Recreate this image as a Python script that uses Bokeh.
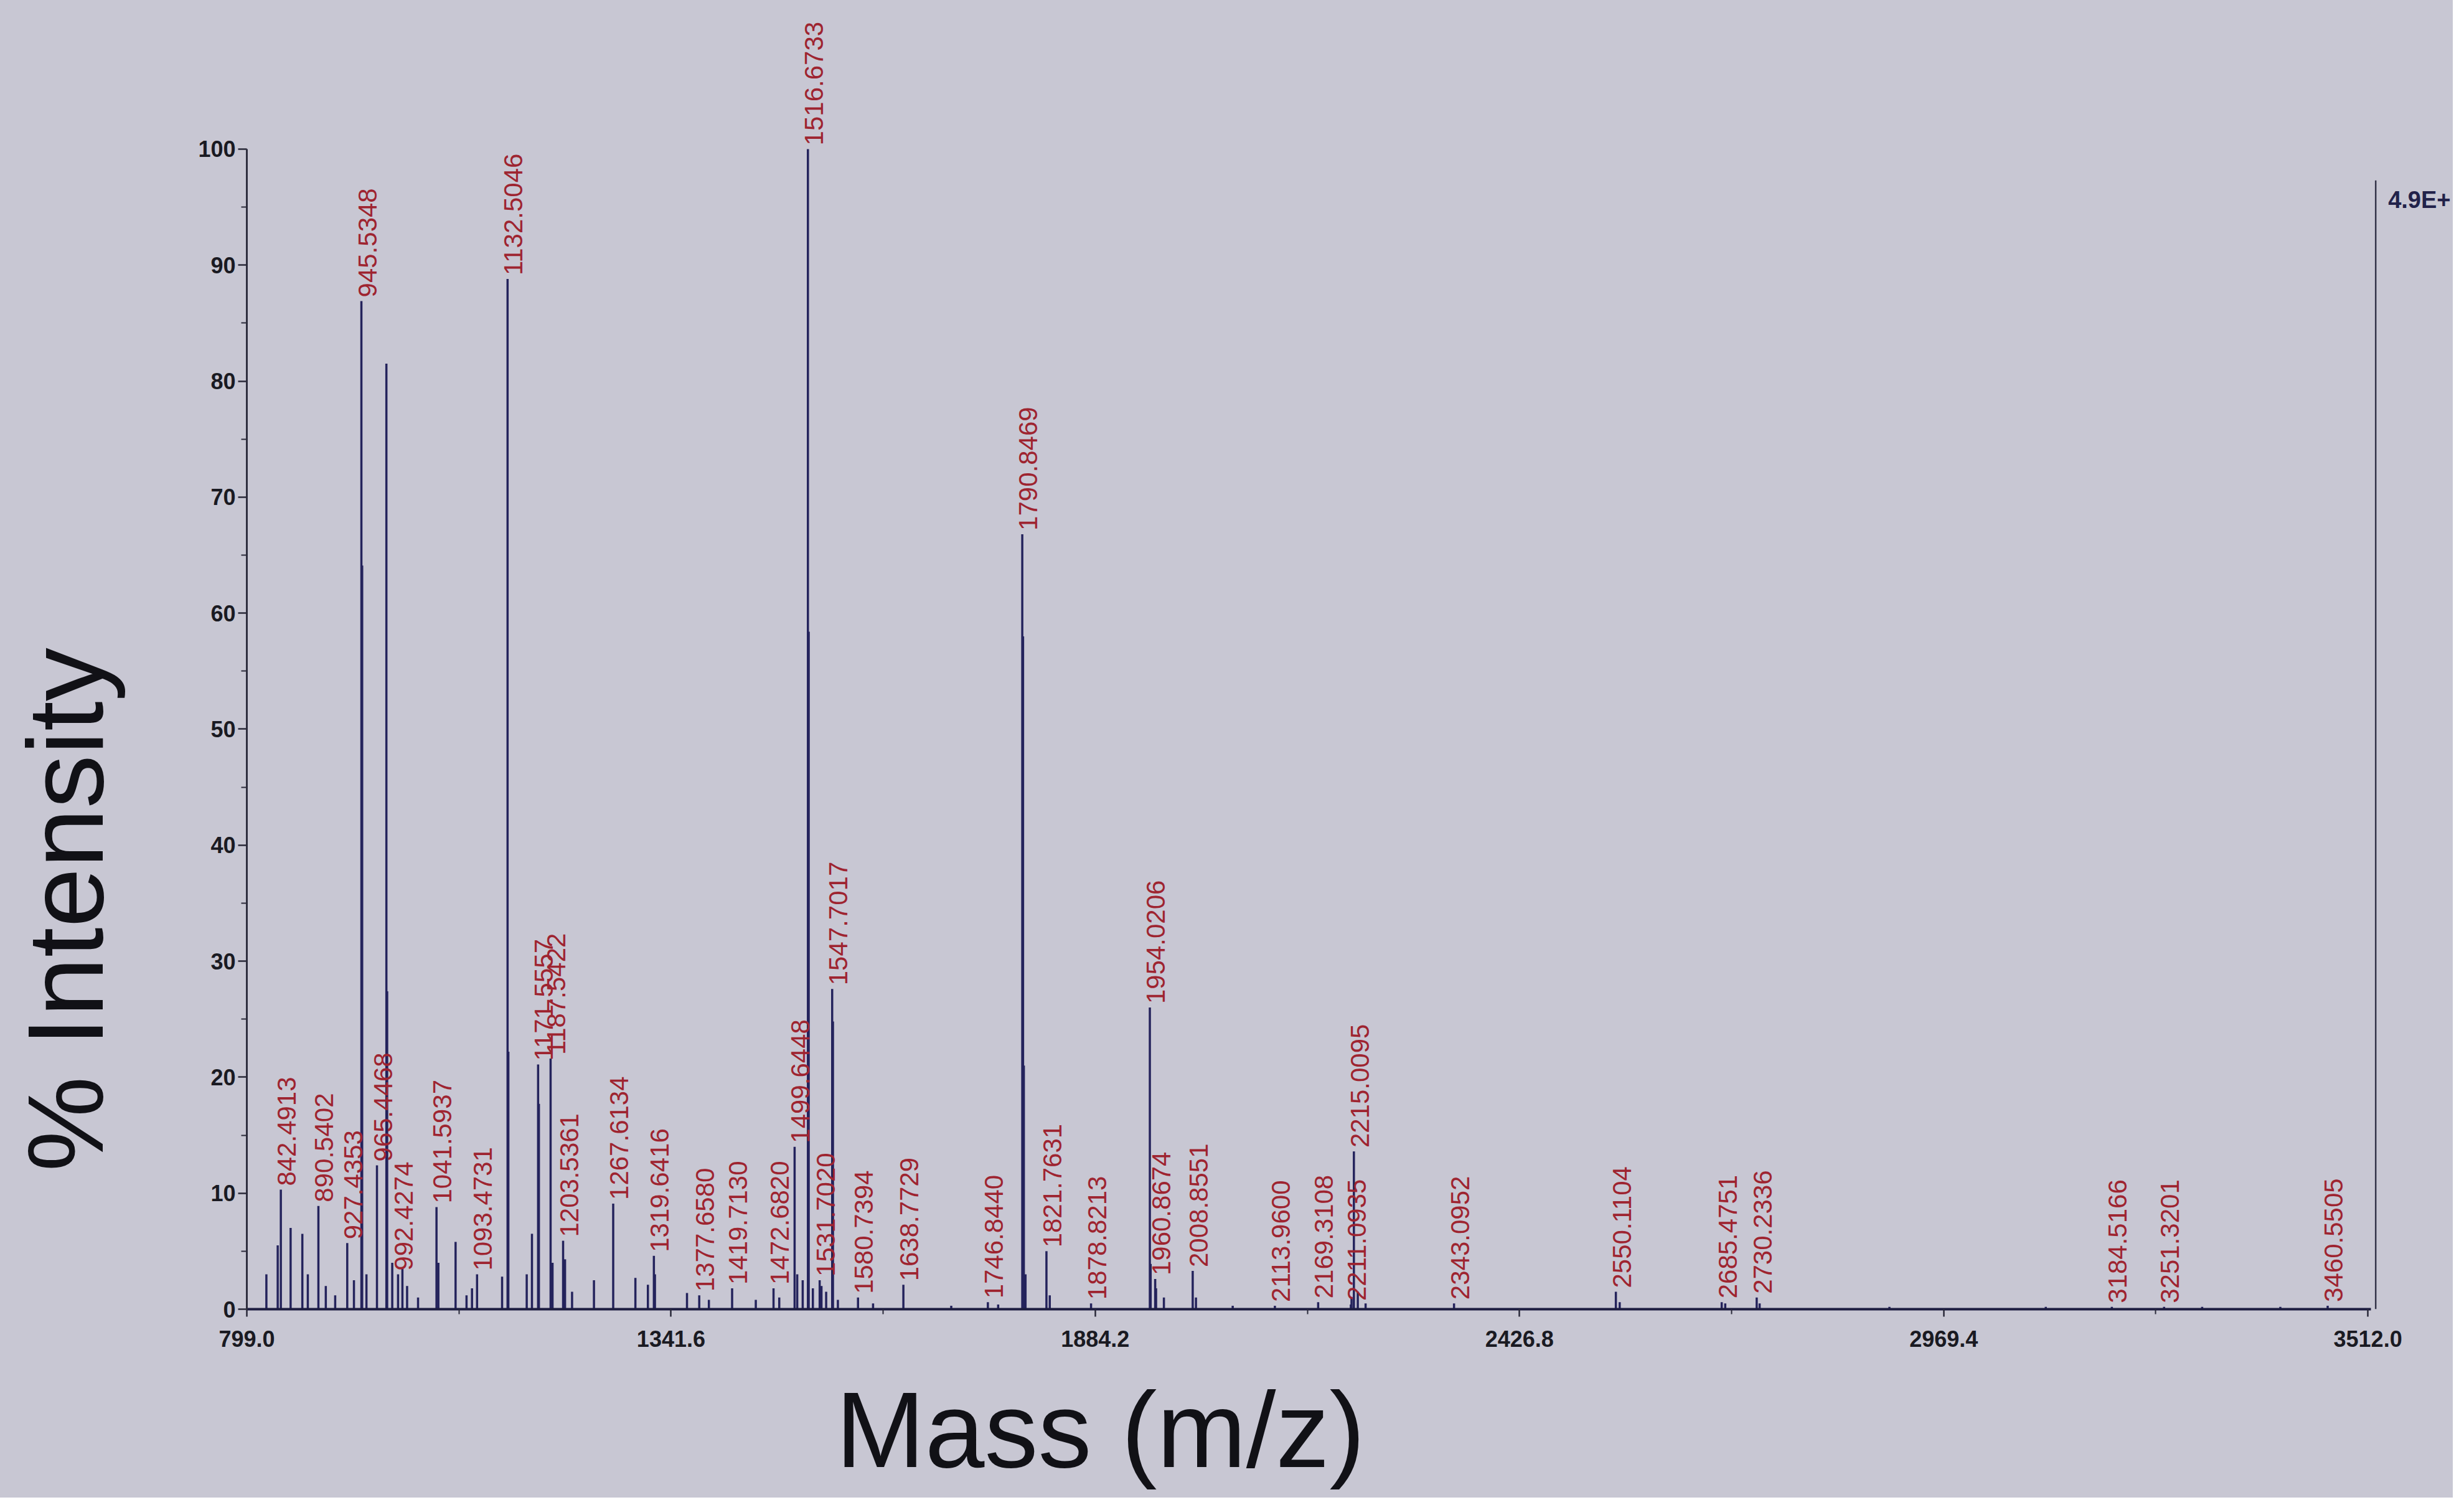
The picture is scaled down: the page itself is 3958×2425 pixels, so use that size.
import math
from bokeh.plotting import figure
from bokeh.layouts import column, row
from bokeh.models import Range1d, FixedTicker, NumeralTickFormatter, ColumnDataSource
from bokeh.core.properties import value
from bokeh.embed import file_html
from bokeh.resources import INLINE

# ---- data ----
label_mz = [842.4913, 890.5402, 927.4353, 945.5348, 965.4468, 992.4274, 1041.5937,
            1093.4731, 1132.5046, 1171.5557, 1187.5422, 1203.5361, 1267.6134, 1319.6416,
            1377.6580, 1419.7130, 1472.6820, 1499.6448, 1516.6733, 1531.7020, 1547.7017,
            1580.7394, 1638.7729, 1746.8440, 1790.8469, 1821.7631, 1878.8213, 1954.0206,
            1960.8674, 2008.8551, 2113.9600, 2169.3108, 2211.0935, 2215.0095, 2343.0952,
            2550.1104, 2685.4751, 2730.2336, 3184.5166, 3251.3201, 3460.5505]
label_int = [10.3, 8.9, 5.7, 86.9, 12.4, 3.0, 8.8,
             3.0, 88.8, 21.1, 21.6, 5.9, 9.1, 4.6,
             1.2, 1.8, 1.8, 14.0, 100.0, 2.5, 27.6,
             1.0, 2.1, 0.6, 66.8, 5.0, 0.5, 26.0,
             2.6, 3.3, 0.3, 0.6, 0.4, 13.6, 0.5,
             1.5, 0.6, 1.0, 0.2, 0.2, 0.3]
label_text = ["842.4913", "890.5402", "927.4353", "945.5348", "965.4468", "992.4274", "1041.5937",
              "1093.4731", "1132.5046", "1171.5557", "1187.5422", "1203.5361", "1267.6134", "1319.6416",
              "1377.6580", "1419.7130", "1472.6820", "1499.6448", "1516.6733", "1531.7020", "1547.7017",
              "1580.7394", "1638.7729", "1746.8440", "1790.8469", "1821.7631", "1878.8213", "1954.0206",
              "1960.8674", "2008.8551", "2113.9600", "2169.3108", "2211.0935", "2215.0095", "2343.0952",
              "2550.1104", "2685.4751", "2730.2336", "3184.5166", "3251.3201", "3460.5505"]

# unlabeled peaks (isotopes and minor peaks)
other_mz = [946.53, 977.5, 978.5, 1133.5, 1172.56, 1517.67, 1548.70, 1791.85, 1792.85, 1955.02,
            824.0, 838.5, 855.0, 870.0, 877.0, 900.0, 912.0, 936.0, 952.0, 985.0, 998.0, 1004.0,
            1018.0, 1044.0, 1066.0, 1080.0, 1087.0, 1125.5, 1157.0, 1163.7, 1190.0, 1206.0, 1215.0,
            1243.0, 1296.0, 1312.0, 1321.0, 1362.0, 1390.0, 1450.0, 1480.0, 1503.0, 1510.0, 1523.0,
            1534.0, 1540.0, 1555.0, 1600.0, 1700.0, 1760.0, 1795.0, 1826.0, 1962.0, 1972.0, 2013.0,
            2060.0, 2212.0, 2220.0, 2230.0, 2555.0, 2690.0, 2734.0, 2900.0, 3100.0, 3300.0, 3400.0]
other_int = [64.1, 81.5, 27.4, 22.2, 17.7, 58.4, 24.8, 58.0, 21.0, 3.9,
             3.0, 5.5, 7.0, 6.5, 3.0, 2.0, 1.2, 2.5, 3.0, 4.0, 3.5, 2.0,
             1.0, 4.0, 5.8, 1.2, 1.8, 2.8, 3.0, 6.5, 4.0, 4.3, 1.5,
             2.5, 2.7, 2.1, 3.0, 1.4, 0.8, 0.8, 1.0, 3.0, 2.5, 1.8,
             2.0, 1.5, 0.8, 0.5, 0.3, 0.4, 3.0, 1.2, 1.8, 1.0, 1.0,
             0.3, 1.0, 1.5, 0.5, 0.6, 0.5, 0.5, 0.2, 0.2, 0.2, 0.2]

x_ticks = [799.0, 1341.6, 1884.2, 2426.8, 2969.4, 3512.0]
x_minor = [1070.3, 1612.9, 2155.5, 2698.1, 3240.7]
y_ticks = [0, 10, 20, 30, 40, 50, 60, 70, 80, 90, 100]
full_scale_mz = 3522
full_scale_top = 97.3
full_scale_text = "4.9E+"
x_title = "Mass (m/z)"
y_title = "% Intensity"

BG = "#c8c7d3"
NAVY = "#24235c"
RED = "#9e2430"

W_TOTAL, H_TOTAL = 3940, 2405
W_LEFT = 250
H_MAIN = 2192


def blank(width, height):
    f = figure(width=width, height=height, output_backend="svg", toolbar_location=None,
               x_range=Range1d(0, width), y_range=Range1d(0, height),
               x_axis_type=None, y_axis_type=None,
               min_border=0, min_border_left=0, min_border_right=0,
               min_border_top=0, min_border_bottom=0,
               background_fill_color=BG, border_fill_color=BG)
    f.outline_line_color = None
    f.grid.visible = False
    return f


# ---- main spectrum ----
p = figure(width=W_TOTAL - W_LEFT, height=H_MAIN, output_backend="svg", toolbar_location=None,
           x_range=Range1d(799, 3621), y_range=Range1d(0, 112.5),
           min_border_left=146, min_border_right=0, min_border_top=6, min_border_bottom=90,
           background_fill_color=BG, border_fill_color=BG)
p.outline_line_color = None
p.grid.visible = False

all_mz = label_mz + other_mz
all_int = label_int + other_int
p.segment(x0=all_mz, y0=[0] * len(all_mz), x1=all_mz, y1=all_int,
          line_color=NAVY, line_width=3.5)

src = ColumnDataSource(dict(x=label_mz, y=label_int, t=label_text))
p.text(x="x", y="y", text="t", source=src, angle=math.pi / 2,
       text_align="left", text_baseline="top", x_offset=-5, y_offset=-6,
       text_color=RED, text_font=value("Liberation Sans"), text_font_size="42px")

p.segment(x0=[full_scale_mz], y0=[0], x1=[full_scale_mz], y1=[full_scale_top],
          line_color="#35354a", line_width=2.5)
p.text(x=[full_scale_mz], y=[95.6], text=[full_scale_text], x_offset=20,
       text_baseline="middle", text_align="left", text_color="#22224a",
       text_font=value("Liberation Sans"), text_font_size="38px", text_font_style="bold")

xa = p.xaxis[0]
xa.ticker = FixedTicker(ticks=x_ticks, minor_ticks=x_minor)
xa.formatter = NumeralTickFormatter(format="0.0")
xa.bounds = (799, 3516)
xa.axis_line_color = "#1d1d40"
xa.axis_line_width = 4
xa.major_tick_out = 12
xa.major_tick_in = 0
xa.minor_tick_out = 8
xa.minor_tick_in = 0
xa.major_tick_line_width = 2.5
xa.minor_tick_line_width = 2
xa.major_tick_line_color = "#2a2a3a"
xa.minor_tick_line_color = "#2a2a3a"
xa.major_label_standoff = 22
xa.major_label_text_font = "Liberation Sans"
xa.major_label_text_font_style = "bold"
xa.major_label_text_font_size = "36px"
xa.major_label_text_color = "#1a1a22"

ya = p.yaxis[0]
ya.ticker = FixedTicker(ticks=y_ticks, minor_ticks=list(range(5, 100, 10)))
ya.bounds = (0, 100)
ya.axis_line_color = "#2f2f3f"
ya.axis_line_width = 3
ya.major_tick_out = 14
ya.major_tick_in = 0
ya.minor_tick_out = 9
ya.minor_tick_in = 0
ya.major_tick_line_width = 2.5
ya.minor_tick_line_width = 2
ya.major_tick_line_color = "#2a2a3a"
ya.minor_tick_line_color = "#2a2a3a"
ya.major_label_standoff = 4
ya.major_label_text_font = "Liberation Sans"
ya.major_label_text_font_style = "bold"
ya.major_label_text_font_size = "36px"
ya.major_label_text_color = "#1a1a22"

# ---- y-axis title panel (left) ----
pl = blank(W_LEFT, H_MAIN)
pl.text(x=[104], y=[671], text=[y_title], angle=math.pi / 2,
        text_align="center", text_baseline="alphabetic", text_color="#111116",
        text_font=value("Liberation Sans"), text_font_size="172px")

# ---- x-axis title panel (bottom) ----
pb = blank(W_TOTAL, H_TOTAL - H_MAIN)
pb.text(x=[1342], y=[110], text=[x_title],
        text_align="left", text_baseline="alphabetic", text_color="#111116",
        text_font=value("Liberation Sans"), text_font_size="172px")

inner = row(pl, p, spacing=0, styles={"background-color": BG})
layout = column(inner, pb, spacing=0, styles={"background-color": BG})

open("out.html", "w").write(file_html(layout, INLINE))
